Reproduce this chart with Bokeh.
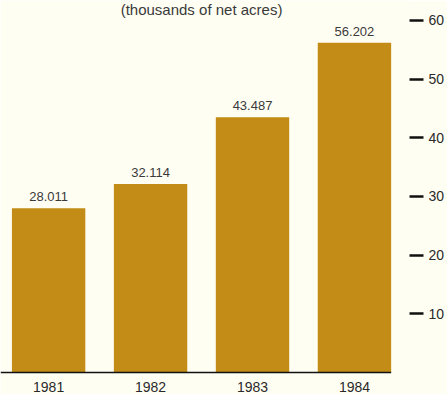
from bokeh.plotting import figure
from bokeh.models import ColumnDataSource, Range1d, LinearAxis, FixedTicker, Label
from bokeh.embed import file_html
from bokeh.resources import INLINE
from bokeh.core.properties import value

years = ["1981", "1982", "1983", "1984"]
acres = [28.011, 32.114, 43.487, 56.202]
y_ticks = [10, 20, 30, 40, 50, 60]
title_text = "(thousands of net acres)"

BG = "#FFFEF3"
BAR = "#C28C16"
FONT = "Liberation Sans"

xs = list(range(1, len(years) + 1))
src = ColumnDataSource(dict(
    x=xs, top=acres, year=years,
    label=[f"{v:.3f}" for v in acres],
))

p = figure(width=447, height=394, output_backend="svg", toolbar_location=None,
           x_range=Range1d(0.528, 4.54), y_range=Range1d(-3.75, 63.4),
           min_border=0, min_border_left=0, min_border_right=0,
           min_border_top=0, min_border_bottom=0,
           background_fill_color=BG, border_fill_color=BG,
           outline_line_color=None)
p.xaxis.visible = False
p.yaxis.visible = False
p.grid.visible = False

bw = 0.72
p.vbar(x="x", top="top", bottom=0, width=bw, source=src,
       fill_color=BAR, line_color=None)

# baseline
p.segment(x0=[0.528], x1=[len(years) + bw / 2], y0=[0], y1=[0],
          line_color="#111111", line_width=1.6)

# value labels
p.text(x="x", y="top", text="label", source=src, y_offset=-7,
       text_align="center", text_baseline="bottom",
       text_font=value(FONT), text_font_size="13px", text_color="#3a3a3a")

# year labels
p.text(x="x", y=0, text="year", source=src, y_offset=15,
       text_align="center", text_baseline="middle",
       text_font=value(FONT), text_font_size="14px", text_color="#2a2a2a")

# right axis
ax = LinearAxis(ticker=FixedTicker(ticks=y_ticks))
ax.axis_line_color = None
ax.minor_tick_line_color = None
ax.major_tick_in = 0
ax.major_tick_out = 14
ax.major_tick_line_width = 2.5
ax.major_tick_line_color = "#111111"
ax.major_label_standoff = 5
ax.major_label_text_font = FONT
ax.major_label_text_font_size = "14px"
ax.major_label_text_color = "#2a2a2a"
p.add_layout(ax, "right")

p.add_layout(Label(x=2.5, y=63.4, text=title_text, text_align="center",
                   text_baseline="top", y_offset=0,
                   text_font=FONT, text_font_size="15px", text_color="#3a3a3a"))

open("out.html", "w").write(file_html(p, INLINE))
